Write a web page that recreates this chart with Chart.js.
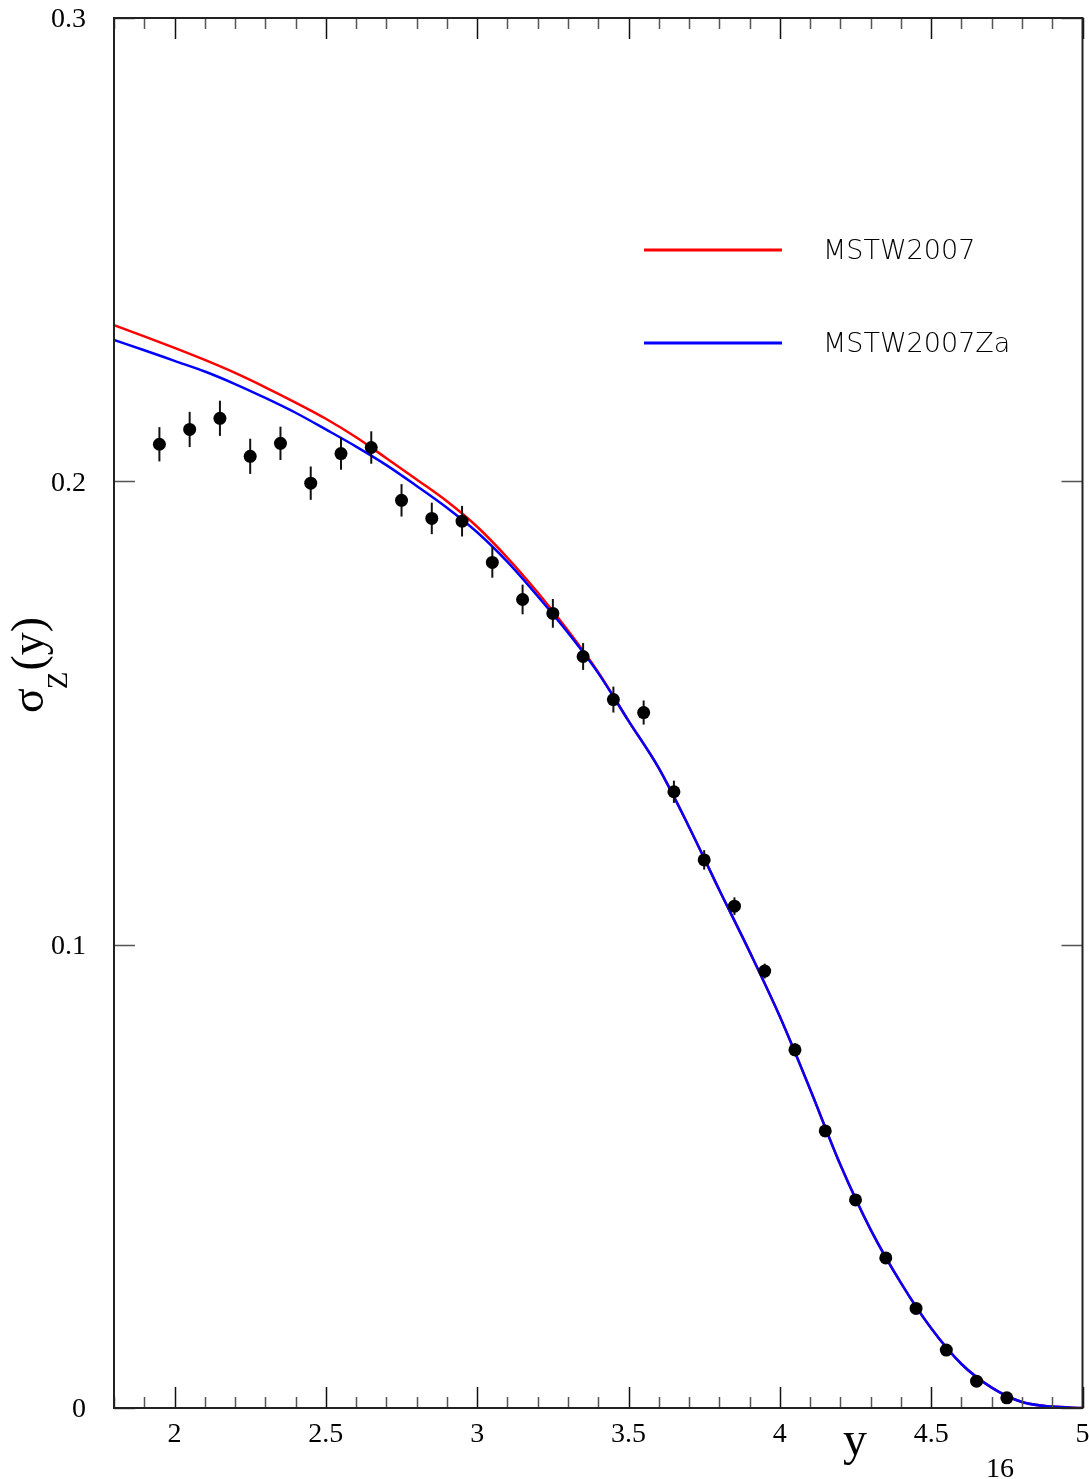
<!DOCTYPE html>
<html>
<head>
<meta charset="utf-8">
<script src="https://cdn.jsdelivr.net/npm/chart.js@4.4.1/dist/chart.umd.min.js"></script>
<style>
  html, body { margin: 0; padding: 0; background: #fff; }
  #wrap { width: 1089px; height: 1479px; }
</style>
</head>
<body>
<div id="wrap"><canvas id="sigmaz"></canvas></div>
<script>
// measured points
var yBins = [1.95, 2.05, 2.15, 2.25, 2.35, 2.45, 2.55, 2.65, 2.75, 2.85, 2.95, 3.05, 3.15, 3.25, 3.35,
             3.45, 3.55, 3.65, 3.75, 3.85, 3.95, 4.05, 4.15, 4.25, 4.35, 4.45, 4.55, 4.65, 4.75];
var sigmaData = [0.2080, 0.2112, 0.2136, 0.2054, 0.2082, 0.1996, 0.2060, 0.2073, 0.1959, 0.1920, 0.1914,
                 0.1825, 0.1745, 0.1715, 0.1622, 0.1529, 0.1501, 0.1330, 0.1183, 0.1083, 0.0943, 0.0773,
                 0.0598, 0.0449, 0.0324, 0.0215, 0.0125, 0.0058, 0.0022];
var sigmaErr = [0.0037, 0.0038, 0.0038, 0.0038, 0.0036, 0.0036, 0.0035, 0.0035, 0.0035, 0.0034, 0.0033,
                0.0033, 0.0032, 0.0031, 0.0029, 0.0028, 0.0026, 0.0024, 0.0021, 0.0019, 0.0016, 0.0014,
                0.0012, 0.0010, 0.0008, 0.0006, 0.0005, 0.0004, 0.0003];

// theory curves
var yGrid = [1.8, 1.9, 2.0, 2.1, 2.2, 2.3, 2.4, 2.5, 2.6, 2.7, 2.8, 2.9, 3.0, 3.1, 3.2, 3.3, 3.4,
             3.5, 3.6, 3.7, 3.8, 3.9, 4.0, 4.1, 4.2, 4.3, 4.4, 4.5, 4.6, 4.7, 4.8, 4.9, 5.0];
var mstw2007 = [0.2337, 0.2313, 0.2288, 0.2262, 0.2234, 0.2203, 0.2170, 0.2135, 0.2095, 0.2050, 0.2004,
                0.1957, 0.1902, 0.1835, 0.1760, 0.1678, 0.1588, 0.1483, 0.1381, 0.1254, 0.1118, 0.0985,
                0.0845, 0.0688, 0.0525, 0.0385, 0.0270, 0.0172, 0.0095, 0.0044, 0.0013, 0.0003, 0.0000];
var mstw2007Za = [0.2305, 0.2283, 0.2260, 0.2237, 0.2210, 0.2180, 0.2148, 0.2112, 0.2075, 0.2035, 0.1990,
                  0.1943, 0.1890, 0.1826, 0.1752, 0.1673, 0.1586, 0.1483, 0.1381, 0.1254, 0.1118, 0.0985,
                  0.0845, 0.0688, 0.0525, 0.0385, 0.0270, 0.0172, 0.0095, 0.0044, 0.0013, 0.0003, 0.0000];

var xLabels = [2, 2.5, 3, 3.5, 4, 4.5, 5];
var yLabels = [0, 0.1, 0.2, 0.3];

function pares(xs, ys) {
  return xs.map(function (x, i) { return { x: x, y: ys[i] }; });
}

// marco, ticks, etiquetas, leyenda (estilo ROOT)
var marcoPlugin = {
  id: 'marco',
  beforeDatasetDraw: function (chart, args) {
    if (args.index !== 2) return;
    var ctx = chart.ctx, xs = chart.scales.x, ys = chart.scales.y;
    ctx.save();
    ctx.strokeStyle = '#111';
    ctx.lineWidth = 2;
    yBins.forEach(function (b, i) {
      var px = xs.getPixelForValue(b);
      ctx.beginPath();
      ctx.moveTo(px, ys.getPixelForValue(sigmaData[i] - sigmaErr[i]));
      ctx.lineTo(px, ys.getPixelForValue(sigmaData[i] + sigmaErr[i]));
      ctx.stroke();
    });
    ctx.restore();
  },
  afterDraw: function (chart) {
    var ctx = chart.ctx, a = chart.chartArea, xs = chart.scales.x, ys = chart.scales.y;
    ctx.save();
    // ticks x (abajo y arriba)
    ctx.lineWidth = 1.5;
    for (var k = 18; k <= 50; k++) {
      var v = k / 10, px = Math.round(xs.getPixelForValue(v)) + 0.5;
      var major = (k % 5 === 0);
      var len = major ? 21 : 11;
      ctx.strokeStyle = major ? '#111' : '#555';
      ctx.beginPath();
      ctx.moveTo(px, a.bottom); ctx.lineTo(px, a.bottom - len);
      ctx.moveTo(px, a.top); ctx.lineTo(px, a.top + len);
      ctx.stroke();
    }
    // ticks y (izq y der)
    ctx.strokeStyle = '#555';
    yLabels.forEach(function (v) {
      var py = Math.round(ys.getPixelForValue(v)) + 0.5;
      ctx.beginPath();
      ctx.moveTo(a.left, py); ctx.lineTo(a.left + 21, py);
      ctx.moveTo(a.right, py); ctx.lineTo(a.right - 21, py);
      ctx.stroke();
    });
    // marco
    ctx.strokeStyle = '#222';
    ctx.lineWidth = 2;
    ctx.strokeRect(a.left, a.top, a.right - a.left, a.bottom - a.top);

    // etiquetas
    ctx.fillStyle = '#000';
    ctx.font = '28px "Liberation Serif", serif';
    ctx.textAlign = 'center';
    ctx.textBaseline = 'alphabetic';
    xLabels.forEach(function (v) {
      ctx.fillText(String(v), xs.getPixelForValue(v), a.bottom + 34);
    });
    ctx.textAlign = 'right';
    ctx.textBaseline = 'middle';
    yLabels.forEach(function (v) {
      ctx.fillText(String(v), a.left - 28, ys.getPixelForValue(v) + 2);
    });

    // titulo eje x
    ctx.textAlign = 'center';
    ctx.textBaseline = 'alphabetic';
    ctx.font = '48px "Liberation Serif", serif';
    ctx.fillText('y', 855, 1455);
    ctx.font = '28px "Liberation Serif", serif';
    ctx.fillText('16', 1000, 1477);

    // titulo eje y
    ctx.save();
    ctx.translate(43, 713);
    ctx.rotate(-Math.PI / 2);
    ctx.textAlign = 'left';
    ctx.font = '46px "Liberation Serif", serif';
    ctx.fillText('σ', 0, 0);
    var w = ctx.measureText('σ').width;
    ctx.font = '29px "Liberation Serif", serif';
    ctx.fillText('Z', w - 1, 24);
    var wz = ctx.measureText('Z').width;
    ctx.font = '46px "Liberation Serif", serif';
    ctx.fillText('(y)', w + wz, 0);
    ctx.restore();

    // leyenda
    var items = [chart.data.datasets[0], chart.data.datasets[1]];
    var rowsY = [250, 343];
    ctx.font = '200 27px "DejaVu Sans", sans-serif';
    ctx.textAlign = 'left';
    ctx.textBaseline = 'middle';
    items.forEach(function (ds, i) {
      ctx.strokeStyle = ds.borderColor;
      ctx.lineWidth = 3;
      ctx.beginPath();
      ctx.moveTo(644, rowsY[i]); ctx.lineTo(782, rowsY[i]);
      ctx.stroke();
      ctx.fillStyle = '#000';
      ctx.fillText(ds.label, 823, rowsY[i] + 2);
    });
    ctx.restore();
  }
};

var ctx = document.getElementById('sigmaz').getContext('2d');
var grafico = new Chart(ctx, {
  type: 'scatter',
  data: {
    datasets: [{
      label: 'MSTW2007',
      data: pares(yGrid, mstw2007),
      showLine: true,
      borderColor: '#ff0000',
      borderWidth: 2.5,
      pointRadius: 0,
      cubicInterpolationMode: 'monotone',
      order: 2
    }, {
      label: 'MSTW2007Za',
      data: pares(yGrid, mstw2007Za),
      showLine: true,
      borderColor: '#0000ff',
      borderWidth: 2.5,
      pointRadius: 0,
      cubicInterpolationMode: 'monotone',
      order: 1
    }, {
      label: 'datos',
      data: pares(yBins, sigmaData),
      showLine: false,
      pointRadius: 6.5,
      pointBackgroundColor: '#000',
      pointBorderWidth: 0,
      order: 0
    }]
  },
  options: {
    responsive: true,
    maintainAspectRatio: false,
    animation: false,
    layout: { padding: { left: 114, right: 3, top: 18, bottom: 71 } },
    plugins: { legend: { display: false }, tooltip: { enabled: false } },
    scales: {
      x: { type: 'linear', min: 1.8, max: 5.0, display: false },
      y: { type: 'linear', min: 0, max: 0.3, display: false }
    }
  },
  plugins: [marcoPlugin]
});
</script>
</body>
</html>
